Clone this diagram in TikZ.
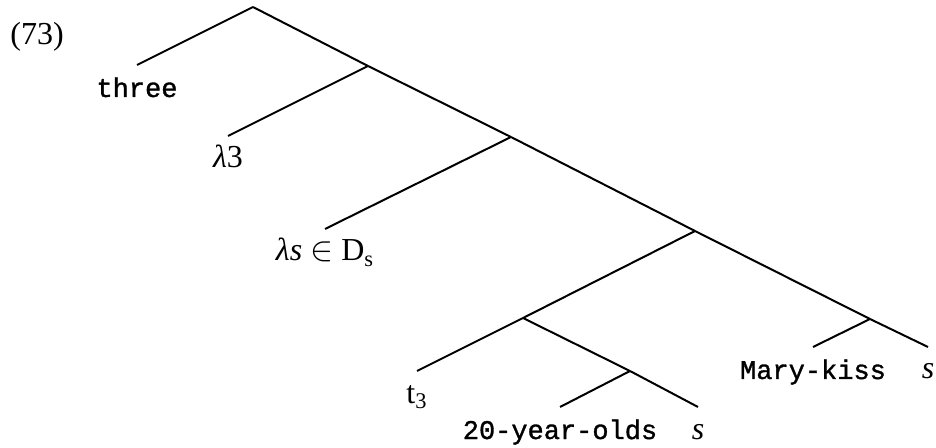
\documentclass[tikz,border=0pt]{standalone}
\usepackage{fontspec}
\setmainfont{Liberation Serif}
\setmonofont{Liberation Mono}[FakeBold=1.2]

\begin{document}
\begin{tikzpicture}[x=0.5pt,y=-0.5pt,
		branch/.style={line width=1pt},
		word/.style={anchor=base, inner sep=0pt, yshift=-16pt, font=\fontsize{16}{19}\selectfont},
		code/.style={word, font=\fontsize{13.5}{17}\selectfont\ttfamily}]

				\useasboundingbox (0,0) rectangle (936,448);

				% Vertices


				\coordinate (r) at (253,7);
				\coordinate (a) at (368,66);
				\coordinate (b) at (511,137);
				\coordinate (c) at (695,231);
				\coordinate (d) at (523,318);
				\coordinate (e) at (630,371);
				\coordinate (f) at (870,319);

				\coordinate (l1) at (137,65);
				\coordinate (l2) at (228,136);
				\coordinate (l3) at (325,229);
				\coordinate (l4) at (417,371);
				\coordinate (l5) at (560,407);
				\coordinate (l6) at (698,407);
				\coordinate (l7) at (813,347);
				\coordinate (l8) at (928,347);


				\draw[branch] (r) -- (l1);
				\draw[branch] (r) -- (a);
				\draw[branch] (a) -- (l2);
				\draw[branch] (a) -- (b);
				\draw[branch] (b) -- (l3);
				\draw[branch] (b) -- (c);
				\draw[branch] (c) -- (d);
				\draw[branch] (c) -- (f);
				\draw[branch] (d) -- (l4);
				\draw[branch] (d) -- (e);
				\draw[branch] (e) -- (l5);
				\draw[branch] (e) -- (l6);
				\draw[branch] (f) -- (l7);
				\draw[branch] (f) -- (l8);

				% Labels

				\node[anchor=base west, inner sep=0pt, font=\fontsize{16}{19}\selectfont] (num) at (10,45) {(73)};

				\node[code] (three) at (l1) {three};
				\node[word] (lam3) at (l2) {\textit{λ}3};
				\node[word] (lams) at (l3) {\textit{λs} $\in$ D\textsubscript{s}};
				\node[word] (trace) at (l4) {t\textsubscript{3}};
				\node[code] (olds) at (l5) {20-year-olds};
				\node[word] (s1) at (l6) {\textit{s}};
				\node[code] (kiss) at (l7) {Mary-kiss};
				\node[word] (s2) at (l8) {\textit{s}};


			\end{tikzpicture}
\end{document}
